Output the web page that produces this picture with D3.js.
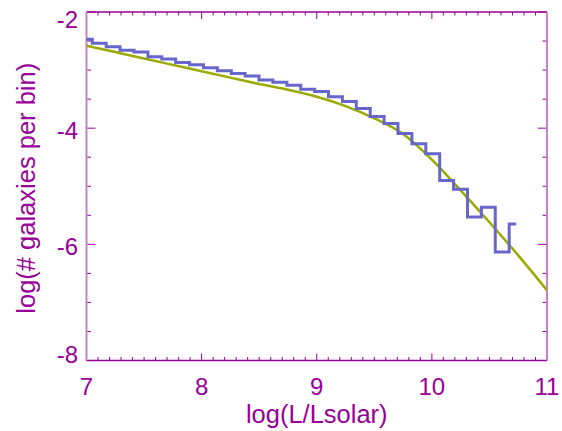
<!DOCTYPE html>
<html>
<head>
<meta charset="utf-8">
<script src="https://cdn.jsdelivr.net/npm/d3@7"></script>
<style>
  body { margin: 0; background: #fff; }
  text { font-family: "Liberation Sans", Arial, sans-serif; fill: #990099; }
</style>
</head>
<body>
<div id="vis_1"></div>
<script>
// histogram bin centres (log L) and log counts per bin
var binCentres = [6.99, 7.111, 7.231, 7.352, 7.473, 7.594, 7.714, 7.835, 7.956, 8.076,
                  8.197, 8.318, 8.438, 8.559, 8.680, 8.801, 8.921, 9.042, 9.163, 9.283,
                  9.404, 9.525, 9.645, 9.766, 9.887, 10.008, 10.128, 10.249, 10.370, 10.490,
                  10.611, 10.732];
var binCounts = [-2.47, -2.54, -2.60, -2.66, -2.69, -2.77, -2.81, -2.87, -2.91, -2.96,
                 -3.01, -3.06, -3.10, -3.17, -3.21, -3.26, -3.33, -3.37, -3.46, -3.54,
                 -3.66, -3.80, -3.92, -4.09, -4.27, -4.44, -4.90, -5.05, -5.53, -5.36,
                 -6.13, -5.65];

// fitted luminosity function
var fitX = [7.0, 7.25, 7.5, 7.75, 8.0, 8.25, 8.5, 8.75, 9.0, 9.25, 9.5, 9.75, 10.0, 10.25, 10.5, 10.75, 11.0];
var fitY = [-2.58, -2.69, -2.80, -2.91, -3.02, -3.13, -3.24, -3.34, -3.46, -3.62, -3.83, -4.10, -4.54, -5.07, -5.62, -6.19, -6.79];

var xMajor = [7, 8, 9, 10, 11];
var yMajor = [-2, -4, -6, -8];

var W = 562, H = 431;
var margin = {top: 12, right: 15, bottom: 70.5, left: 86.5};
var width = W - margin.left - margin.right,
    height = H - margin.top - margin.bottom;

var svg = d3.select("#vis_1")
    .append("svg")
    .attr("width", W)
    .attr("height", H)
    .append("g")
    .attr("transform", "translate(" + margin.left + "," + margin.top + ")");

var x = d3.scaleLinear().domain([7, 11]).range([0, width]);
var y = d3.scaleLinear().domain([-8, -2]).range([height, 0]);

svg.append("clipPath").attr("id", "clip")
    .append("rect").attr("width", width).attr("height", height);

var purple = "#990099";

// minor / major ticks on all four sides
var xMinor = d3.range(70, 111).map(function(d){ return d / 10; });
var yMinor = d3.range(-16, -3).map(function(d){ return d / 2; });

function isMajor(v, list){ return list.some(function(m){ return Math.abs(m - v) < 1e-6; }); }

var ticks = svg.append("g").attr("stroke", purple).attr("stroke-width", 1);
xMinor.forEach(function(v){
    var len = isMajor(v, xMajor) ? 7 : 3.5;
    ticks.append("line").attr("x1", x(v)).attr("x2", x(v)).attr("y1", height).attr("y2", height - len);
    ticks.append("line").attr("x1", x(v)).attr("x2", x(v)).attr("y1", 0).attr("y2", len);
});
yMinor.forEach(function(v){
    var len = isMajor(v, yMajor) ? 9 : 4.5;
    ticks.append("line").attr("y1", y(v)).attr("y2", y(v)).attr("x1", 0).attr("x2", len);
    ticks.append("line").attr("y1", y(v)).attr("y2", y(v)).attr("x1", width).attr("x2", width - len);
});

// frame
svg.append("line").attr("x1", 0).attr("x2", width).attr("y1", 0).attr("y2", 0)
    .attr("stroke", purple).attr("stroke-width", 1.5);
svg.append("line").attr("x1", 0).attr("x2", width).attr("y1", height).attr("y2", height)
    .attr("stroke", purple).attr("stroke-width", 1.5);
svg.append("line").attr("x1", 0).attr("x2", 0).attr("y1", 0).attr("y2", height)
    .attr("stroke", "#cc80cc").attr("stroke-width", 2);
svg.append("line").attr("x1", width).attr("x2", width).attr("y1", 0).attr("y2", height)
    .attr("stroke", "#cc80cc").attr("stroke-width", 2);

// tick labels
svg.selectAll(".xlab")
    .data(xMajor)
    .enter().append("text")
    .attr("x", function(d){ return x(d); })
    .attr("y", height + 34.5)
    .attr("text-anchor", "middle")
    .style("font-size", "24px")
    .text(function(d){ return d; });

svg.selectAll(".ylab")
    .data(yMajor)
    .enter().append("text")
    .attr("x", -8.5)
    .attr("y", function(d, i){
        var off = i === 0 ? 16 : (i === yMajor.length - 1 ? 2 : 11);
        return y(d) + off;
    })
    .attr("text-anchor", "end")
    .style("font-size", "24px")
    .text(function(d){ return d; });

// axis titles
svg.append("text")
    .attr("x", width / 2)
    .attr("y", height + 62.5)
    .attr("text-anchor", "middle")
    .style("font-size", "25.5px")
    .text("log(L/Lsolar)");

svg.append("text")
    .attr("transform", "translate(" + (35 - margin.left) + "," + (height / 2 + 2) + ") rotate(-90)")
    .attr("text-anchor", "middle")
    .style("font-size", "25.5px")
    .text("log(# galaxies per bin)");

var plot = svg.append("g").attr("clip-path", "url(#clip)");

// fitted curve
var fitLine = d3.line()
    .x(function(d, i){ return x(fitX[i]); })
    .y(function(d){ return y(d); })
    .curve(d3.curveMonotoneX);

plot.append("path")
    .datum(fitY)
    .attr("d", fitLine)
    .attr("fill", "none")
    .attr("stroke", "#99aa00")
    .attr("stroke-width", 2.5);

// histogram drawn as steps between bin centres
var histLine = d3.line()
    .x(function(d, i){ return x(binCentres[i]); })
    .y(function(d){ return y(d); })
    .curve(d3.curveStep);

plot.append("path")
    .datum(binCounts)
    .attr("d", histLine)
    .attr("fill", "none")
    .attr("stroke", "#6666cc")
    .attr("stroke-width", 3);
</script>
</body>
</html>
